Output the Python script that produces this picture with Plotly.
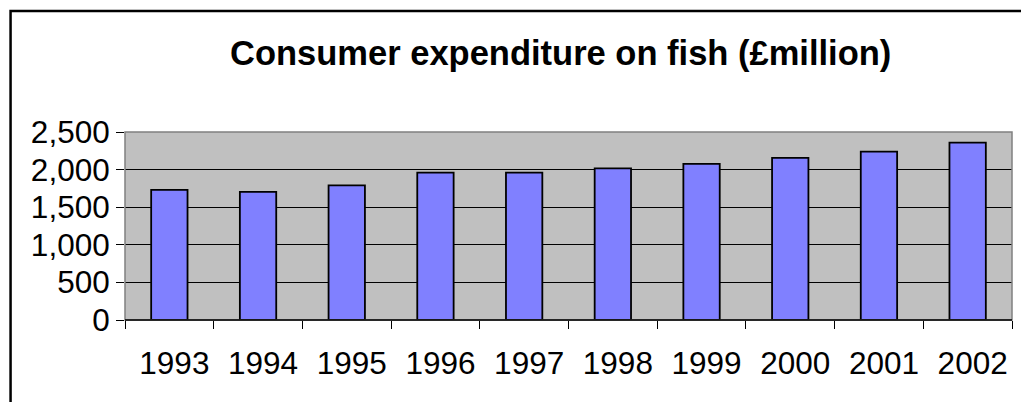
import plotly.graph_objects as go

years = ["1993", "1994", "1995", "1996", "1997", "1998", "1999", "2000", "2001", "2002"]
expenditure = [1730, 1705, 1790, 1960, 1960, 2015, 2075, 2155, 2240, 2360]
y_ticks = [0, 500, 1000, 1500, 2000, 2500]
title_text = "Consumer expenditure on fish (£million)"

FONT = "Arial, Liberation Sans, sans-serif"

fig = go.Figure()
fig.add_trace(go.Bar(
    x=years, y=expenditure,
    width=0.41,
    marker=dict(color="#8080FF", line=dict(color="black", width=1.8)),
    hoverinfo="x+y",
))

W, H = 1021, 402
L, R, T, B = 124.5, 9, 132, 82
pw = W - L - R
ph = H - T - B

def px_x(p):
    return (p - L) / pw

def px_y(p):
    return (H - B - p) / ph

fig.update_layout(
    width=W, height=H,
    margin=dict(l=L, r=R, t=T, b=B, pad=0),
    paper_bgcolor="white",
    plot_bgcolor="#C0C0C0",
    showlegend=False,
    font=dict(family=FONT, color="black", size=30),
    annotations=[dict(
        text="<b>" + title_text + "</b>",
        xref="paper", yref="paper",
        x=px_x(560), y=px_y(53),
        xanchor="center", yanchor="middle",
        showarrow=False,
        font=dict(family=FONT, size=34.5, color="black"),
    )],
    shapes=[
        dict(type="rect", xref="paper", yref="paper", x0=0, y0=0, x1=1, y1=1,
             line=dict(color="#808080", width=1.5), layer="above"),
        dict(type="line", xref="paper", yref="paper", x0=0, y0=0, x1=1, y1=0,
             line=dict(color="black", width=1.5), layer="above"),
        dict(type="rect", xref="paper", yref="paper",
             x0=px_x(10), y0=px_y(420), x1=px_x(1040), y1=px_y(11),
             line=dict(color="black", width=2.5), layer="above"),
    ],
)

fig.update_xaxes(
    type="category",
    showgrid=False,
    ticks="outside", tickson="boundaries", ticklen=8, tickcolor="black", tickwidth=1,
    showline=False,
    automargin=False,
    tickfont=dict(family=FONT, size=31.5, color="black"),
    ticklabelstandoff=21,
    ticklabelshift=5,
)
fig.update_yaxes(
    range=[0, 2500],
    tickvals=y_ticks,
    tickformat=",d",
    showgrid=True, gridcolor="black", gridwidth=1,
    zeroline=False,
    ticks="outside", ticklen=8, tickcolor="black", tickwidth=1,
    showline=False,
    automargin=False,
    tickfont=dict(family=FONT, size=31.5, color="black"),
    ticklabelstandoff=0,
)

fig.write_html(
    "out.html",
    config={"displayModeBar": False},
    post_script="document.body.style.margin='0';document.body.style.padding='0';",
)
